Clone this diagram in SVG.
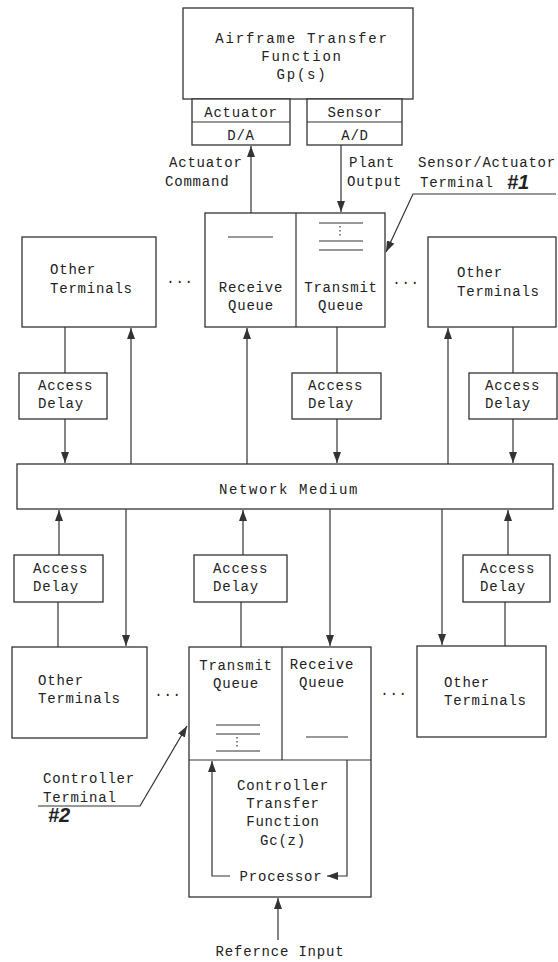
<svg xmlns="http://www.w3.org/2000/svg" width="558" height="962" viewBox="0 0 558 962">
<style>
.b{fill:#fff;stroke:#333;stroke-width:1.3}
.l{fill:none;stroke:#333;stroke-width:1.2}
.t{font-family:"Liberation Mono","DejaVu Sans Mono",monospace;font-size:14px;letter-spacing:0.8px;fill:#222}
.c{text-anchor:middle}
.n{font-family:"Liberation Sans","DejaVu Sans",sans-serif;font-size:20px;font-weight:bold;font-style:italic;fill:#222}
</style>
<defs>
<marker id="a" markerUnits="userSpaceOnUse" markerWidth="11" markerHeight="8" refX="11" refY="4" orient="auto">
<path d="M0,0 L11,4 L0,8 z" fill="#333"/>
</marker>
</defs>
<rect width="558" height="962" fill="#fff"/>

<g id="airframe">
<rect class="b" x="183" y="8" width="230" height="91"/>
<text class="t c" x="302" y="43" style="letter-spacing:1.8px">Airframe Transfer</text>
<text class="t c" x="302" y="61" style="letter-spacing:1.8px">Function</text>
<text class="t c" x="302" y="79" style="letter-spacing:1.8px">Gp(s)</text>
</g>
<g id="actuator">
<rect class="b" x="192" y="99" width="98" height="46"/>
<line class="l" x1="192" y1="122" x2="290" y2="122"/>
<text class="t c" x="241" y="117">Actuator</text>
<text class="t c" x="241" y="140">D/A</text>
</g>
<g id="sensor">
<rect class="b" x="307" y="99" width="95" height="46"/>
<line class="l" x1="307" y1="122" x2="402" y2="122"/>
<text class="t c" x="355" y="117">Sensor</text>
<text class="t c" x="355" y="140">A/D</text>
</g>

<g id="labels-top">
<text class="t" x="169" y="167">Actuator</text>
<text class="t" x="165" y="186">Command</text>
<text class="t" x="349" y="167">Plant</text>
<text class="t" x="347" y="186">Output</text>
<text class="t" x="418" y="167">Sensor/Actuator</text>
<text class="t" x="420" y="187">Terminal</text>
<text class="n" x="507" y="189">#1</text>
</g>

<g id="terminal1">
<rect class="b" x="205" y="213" width="180" height="114"/>
<line class="l" x1="296" y1="213" x2="296" y2="327"/>
<line class="l" x1="228" y1="237" x2="273" y2="237"/>
<line class="l" x1="319" y1="223" x2="363" y2="223"/>
<line class="l" x1="340" y1="226" x2="340" y2="238" stroke-dasharray="1.5,2.5"/>
<line class="l" x1="319" y1="241" x2="363" y2="241"/>
<line class="l" x1="319" y1="250" x2="363" y2="250"/>
<text class="t c" x="251" y="292">Receive</text>
<text class="t c" x="251" y="310">Queue</text>
<text class="t c" x="341" y="292">Transmit</text>
<text class="t c" x="341" y="310">Queue</text>
</g>

<g id="other-tl">
<rect class="b" x="22" y="237" width="134" height="90"/>
<text class="t" x="50" y="274">Other</text>
<text class="t" x="50" y="293">Terminals</text>
</g>
<g id="other-tr">
<rect class="b" x="428" y="237" width="128" height="90"/>
<text class="t" x="457" y="277">Other</text>
<text class="t" x="457" y="296">Terminals</text>
</g>
<text class="t c" x="180" y="283">...</text>
<text class="t c" x="406" y="284">...</text>

<g id="ad-tl">
<rect class="b" x="19" y="373" width="88" height="46"/>
<text class="t" x="38" y="390">Access</text>
<text class="t" x="38" y="408">Delay</text>
</g>
<g id="ad-tm">
<rect class="b" x="292" y="373" width="89" height="46"/>
<text class="t" x="308" y="390">Access</text>
<text class="t" x="308" y="408">Delay</text>
</g>
<g id="ad-tr">
<rect class="b" x="469" y="373" width="88" height="46"/>
<text class="t" x="485" y="390">Access</text>
<text class="t" x="485" y="408">Delay</text>
</g>

<g id="network">
<rect class="b" x="17" y="464" width="536" height="45"/>
<text class="t c" x="289" y="494" style="letter-spacing:1.6px">Network Medium</text>
</g>

<g id="ad-bl">
<rect class="b" x="14" y="555" width="89" height="47"/>
<text class="t" x="33" y="573">Access</text>
<text class="t" x="33" y="591">Delay</text>
</g>
<g id="ad-bm">
<rect class="b" x="194" y="555" width="93" height="47"/>
<text class="t" x="213" y="573">Access</text>
<text class="t" x="213" y="591">Delay</text>
</g>
<g id="ad-br">
<rect class="b" x="463" y="555" width="87" height="47"/>
<text class="t" x="480" y="573">Access</text>
<text class="t" x="480" y="591">Delay</text>
</g>

<g id="other-bl">
<rect class="b" x="12" y="647" width="135" height="91"/>
<text class="t" x="38" y="685">Other</text>
<text class="t" x="38" y="703">Terminals</text>
</g>
<g id="other-br">
<rect class="b" x="417" y="646" width="129" height="91"/>
<text class="t" x="444" y="687">Other</text>
<text class="t" x="444" y="705">Terminals</text>
</g>
<text class="t c" x="168" y="696">...</text>
<text class="t c" x="394" y="695">...</text>

<g id="terminal2">
<rect class="b" x="189" y="647" width="182" height="250"/>
<line class="l" x1="189" y1="760" x2="371" y2="760"/>
<line class="l" x1="282" y1="647" x2="282" y2="760"/>
<text class="t c" x="236" y="670">Transmit</text>
<text class="t c" x="236" y="688">Queue</text>
<text class="t c" x="322" y="669">Receive</text>
<text class="t c" x="322" y="687">Queue</text>
<line class="l" x1="216" y1="725" x2="260" y2="725"/>
<line class="l" x1="216" y1="734" x2="260" y2="734"/>
<line class="l" x1="237" y1="737" x2="237" y2="748" stroke-dasharray="1.5,2.5"/>
<line class="l" x1="216" y1="751" x2="260" y2="751"/>
<line class="l" x1="306" y1="737" x2="348" y2="737"/>
<text class="t c" x="283" y="790">Controller</text>
<text class="t c" x="283" y="808">Transfer</text>
<text class="t c" x="283" y="826">Function</text>
<text class="t c" x="283" y="845">Gc(z)</text>
<text class="t c" x="281" y="881">Processor</text>
</g>

<g id="labels-bottom">
<text class="t" x="43" y="783">Controller</text>
<text class="t" x="43" y="802">Terminal</text>
<text class="n" x="48" y="822">#2</text>
<text class="t c" x="280" y="956">Refernce Input</text>
</g>

<g id="connectors">
<line class="l" x1="251" y1="213" x2="251" y2="146" marker-end="url(#a)"/>
<line class="l" x1="341" y1="145" x2="341" y2="212" marker-end="url(#a)"/>
<polyline class="l" points="556,194 413,194 386,252" marker-end="url(#a)"/>

<line class="l" x1="65" y1="327" x2="65" y2="373"/>
<line class="l" x1="65" y1="419" x2="65" y2="463" marker-end="url(#a)"/>
<line class="l" x1="131" y1="464" x2="131" y2="328" marker-end="url(#a)"/>
<line class="l" x1="247" y1="464" x2="247" y2="328" marker-end="url(#a)"/>
<line class="l" x1="337" y1="327" x2="337" y2="373"/>
<line class="l" x1="337" y1="419" x2="337" y2="463" marker-end="url(#a)"/>
<line class="l" x1="448" y1="464" x2="448" y2="328" marker-end="url(#a)"/>
<line class="l" x1="513" y1="327" x2="513" y2="373"/>
<line class="l" x1="513" y1="419" x2="513" y2="463" marker-end="url(#a)"/>

<line class="l" x1="59" y1="555" x2="59" y2="510" marker-end="url(#a)"/>
<line class="l" x1="58" y1="602" x2="58" y2="647"/>
<line class="l" x1="126" y1="509" x2="126" y2="646" marker-end="url(#a)"/>
<line class="l" x1="243" y1="555" x2="243" y2="510" marker-end="url(#a)"/>
<line class="l" x1="241" y1="602" x2="241" y2="647"/>
<line class="l" x1="330" y1="509" x2="330" y2="646" marker-end="url(#a)"/>
<line class="l" x1="442" y1="509" x2="442" y2="645" marker-end="url(#a)"/>
<line class="l" x1="508" y1="555" x2="508" y2="510" marker-end="url(#a)"/>
<line class="l" x1="505" y1="602" x2="505" y2="646"/>

<polyline class="l" points="230,876 212,876 212,761" marker-end="url(#a)"/>
<polyline class="l" points="347,760 347,876 327,876" marker-end="url(#a)"/>
<line class="l" x1="278" y1="940" x2="278" y2="898" marker-end="url(#a)"/>
<polyline class="l" points="38,806 140,806 187,726" marker-end="url(#a)"/>
</g>
</svg>
